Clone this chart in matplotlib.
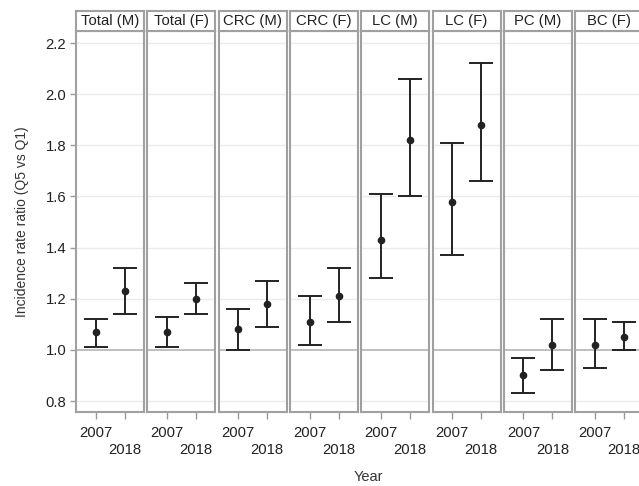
import matplotlib
matplotlib.use("Agg")
import matplotlib.pyplot as plt
import numpy as np

plt.rcParams['font.family'] = ['Liberation Sans', 'DejaVu Sans']

panels = ["Total (M)", "Total (F)", "CRC (M)", "CRC (F)", "LC (M)", "LC (F)", "PC (M)", "BC (F)"]
years = ["2007", "2018"]
est_2007 = [1.07, 1.07, 1.08, 1.11, 1.43, 1.58, 0.90, 1.02]
low_2007 = [1.01, 1.01, 1.00, 1.02, 1.28, 1.37, 0.83, 0.93]
high_2007 = [1.12, 1.13, 1.16, 1.21, 1.61, 1.81, 0.97, 1.12]
est_2018 = [1.23, 1.20, 1.18, 1.21, 1.82, 1.88, 1.02, 1.05]
low_2018 = [1.14, 1.14, 1.09, 1.11, 1.60, 1.66, 0.92, 1.00]
high_2018 = [1.32, 1.26, 1.27, 1.32, 2.06, 2.12, 1.12, 1.11]
yticks = [0.8, 1.0, 1.2, 1.4, 1.6, 1.8, 2.0, 2.2]

W, H = 639, 486
fig = plt.figure(figsize=(W / 100, H / 100), dpi=100)

left0 = 76
pw = 68
step = 71.3
top_strip = 11
strip_bot = 31
plot_bot = 412
border = '#a0a0a0'

for i, name in enumerate(panels):
    x0 = left0 + i * step
    ax = fig.add_axes([x0 / W, 1 - plot_bot / H, pw / W, (plot_bot - strip_bot) / H])
    ax.set_xlim(0.32, 2.67)
    ax.set_ylim(0.757, 2.247)
    for yv in yticks:
        if abs(yv - 1.0) < 1e-9:
            ax.axhline(yv, color='#b4b4b4', lw=1.2, zorder=1)
        else:
            ax.axhline(yv, color='#ebebeb', lw=1.0, zorder=1)
    est = [est_2007[i], est_2018[i]]
    lo = [low_2007[i], low_2018[i]]
    hi = [high_2007[i], high_2018[i]]
    xs = np.array([1, 2])
    yerr = [np.array(est) - np.array(lo), np.array(hi) - np.array(est)]
    ax.errorbar(xs, est, yerr=yerr, fmt='o', color='#222222', ms=4.5,
                capsize=8.5, elinewidth=1.4, capthick=1.4, zorder=3)
    for s in ax.spines.values():
        s.set_color(border)
        s.set_linewidth(1.5)
    ax.set_xticks([1, 2])
    ax.set_xticklabels(years, fontsize=10.7, color='#222222')
    ax.tick_params(axis='x', length=5, color='#999999', width=1)
    xt = ax.xaxis.get_major_ticks()
    xt[0].set_pad(5)
    xt[1].set_pad(17.5)
    if i == 0:
        ax.set_yticks(yticks)
        ax.set_yticklabels([f"{v:.1f}" for v in yticks], fontsize=10.7, color='#222222')
        ax.tick_params(axis='y', length=4, color='#999999', width=1, pad=3)
        ax.set_ylabel("Incidence rate ratio (Q5 vs Q1)", fontsize=10, color='#333333', labelpad=12)
    else:
        ax.set_yticks(yticks)
        ax.tick_params(axis='y', length=0, labelleft=False)
    # strip
    sax = fig.add_axes([x0 / W, 1 - strip_bot / H, pw / W, (strip_bot - top_strip) / H])
    sax.set_xticks([])
    sax.set_yticks([])
    for s in sax.spines.values():
        s.set_color(border)
        s.set_linewidth(1.5)
    sax.text(0.5, 0.5, name, ha='center', va='center', fontsize=10.7, color='#222222',
             transform=sax.transAxes)

fig.text(368 / W, 1 - 477 / H, "Year", ha='center', va='center', fontsize=10.5, color='#333333')

fig.savefig("out.png", dpi=100)
